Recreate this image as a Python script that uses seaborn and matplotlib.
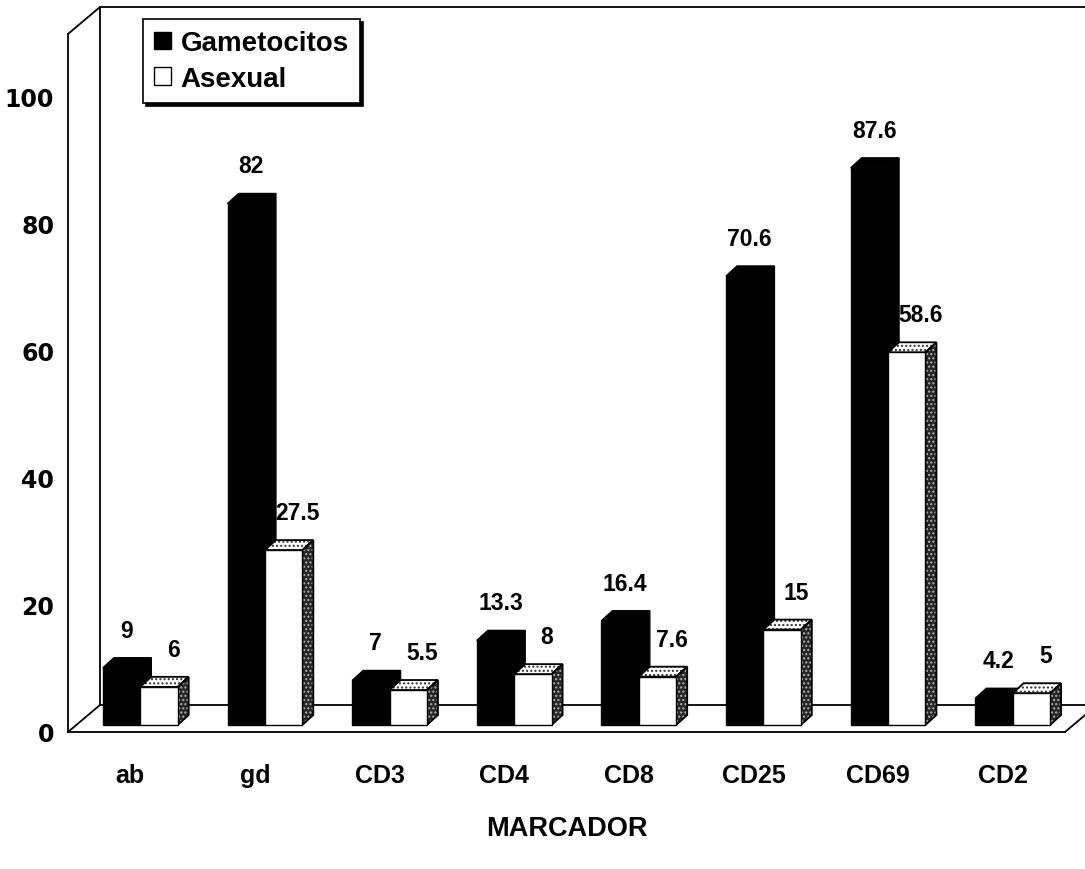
import numpy as np
import pandas as pd
import matplotlib
matplotlib.use("Agg")
import matplotlib.pyplot as plt
import matplotlib.transforms as mtransforms
from matplotlib.patches import Polygon, Patch
from matplotlib.lines import Line2D
import seaborn as sns

# ---------------- data ----------------
categories = ["ab", "gd", "CD3", "CD4", "CD8", "CD25", "CD69", "CD2"]
gametocitos = [9, 82, 7, 13.3, 16.4, 70.6, 87.6, 4.2]
asexual = [6, 27.5, 5.5, 8, 7.6, 15, 58.6, 5]
series_names = ["Gametocitos", "Asexual"]
y_ticks = [0, 20, 40, 60, 80, 100]
x_title = "MARCADOR"

df = pd.DataFrame({
    "Marcador": categories + categories,
    "Valor": gametocitos + asexual,
    "Serie": [series_names[0]] * len(categories) + [series_names[1]] * len(categories),
})

# ---------------- style ----------------
sns.set_style("white")
plt.rcParams["font.family"] = ["Liberation Sans", "DejaVu Sans"]
plt.rcParams["hatch.linewidth"] = 1.0
for k in ("text.color", "axes.labelcolor", "xtick.color", "ytick.color",
          "xtick.labelcolor", "ytick.labelcolor"):
    plt.rcParams[k] = "black"

W, H = 1085, 870
fig = plt.figure(figsize=(W / 100, H / 100), dpi=100)
ax = fig.add_axes([68 / W, (H - 733) / H, (1065 - 68) / W, (733 - 35) / H])

sns.barplot(data=df, x="Marcador", y="Valor", hue="Serie",
            palette=["black", "white"], saturation=1, width=0.6,
            edgecolor="black", linewidth=1.0, dodge=True, legend=False, ax=ax)

ax.set_xlim(-0.5, len(categories) - 0.5)
ax.set_ylim(0, 109.75)

# 3D geometry (pixels)
BAR_SHIFT = (10, 7)      # bars stand a little behind the front axis
FACE = (11, 10)          # depth of each bar
WALL = (32, 27)          # depth of the floor / back wall
ident = mtransforms.IdentityTransform()
bar_tr = ax.transData + mtransforms.Affine2D().translate(*BAR_SHIFT)

def px(x, y):
    p = bar_tr.transform((x, y))
    return p[0], p[1]

for ci, cont in enumerate(ax.containers):
    for bar in cont:
        bar.set_transform(bar_tr)
        bar.set_zorder(2 + ci * 0.1)
        x0 = bar.get_x(); x1 = x0 + bar.get_width(); h = bar.get_height()
        (ax0, ay0), (ax1, ay1) = px(x0, 0), px(x1, h)
        fx, fy = FACE
        top = [(ax0, ay1), (ax0 + fx, ay1 + fy), (ax1 + fx, ay1 + fy), (ax1, ay1)]
        side = [(ax1, ay0), (ax1, ay1), (ax1 + fx, ay1 + fy), (ax1 + fx, ay0 + fy)]
        z = 1.9 + ci * 0.1
        if ci == 0:
            for poly in (top, side):
                ax.add_patch(Polygon(poly, closed=True, facecolor="black", edgecolor="black",
                                     lw=1, transform=ident, zorder=z, clip_on=False))
        else:
            ax.add_patch(Polygon(side, closed=True, facecolor="#262626", edgecolor="#b0b0b0",
                                 hatch="....", lw=0, transform=ident, zorder=z, clip_on=False))
            ax.add_patch(Polygon(top, closed=True, facecolor="white", edgecolor="#333333",
                                 hatch="....", lw=0, transform=ident, zorder=z, clip_on=False))
            for poly in (top, side):
                ax.add_patch(Polygon(poly, closed=True, fill=False, edgecolor="black",
                                     lw=1.3, transform=ident, zorder=z + 0.01, clip_on=False))
        # value label
        lx = (ax0 + ax1) / 2 + (5 if ci == 0 else 14)
        ax.text(lx, ay1 + fy + 21, f"{h:g}", transform=ident, ha="center", va="baseline",
                fontsize=16.5, fontweight="bold", color="black", zorder=5, clip_on=False)

# floor and back wall
flt = ax.transAxes.transform((0, 1))
flb = ax.transAxes.transform((0, 0))
frb = ax.transAxes.transform((1, 0))
dx, dy = WALL
wall_lines = [
    ([flt[0], flt[0] + dx], [flt[1], flt[1] + dy]),
    ([flt[0] + dx, W + 5], [flt[1] + dy, flt[1] + dy]),
    ([flt[0] + dx, flb[0] + dx], [flt[1] + dy, flb[1] + dy]),
    ([flb[0] + dx, W + 5], [flb[1] + dy, flb[1] + dy]),
    ([flb[0], flb[0] + dx], [flb[1], flb[1] + dy]),
    ([frb[0], frb[0] + dx], [frb[1], frb[1] + dy]),
]
for xs, ys in wall_lines:
    ax.add_line(Line2D(xs, ys, color="black", lw=1.3, transform=ident, zorder=0.5, clip_on=False))

# spines / ticks
for s in ("top", "right"):
    ax.spines[s].set_visible(False)
for s in ("left", "bottom"):
    ax.spines[s].set_color("black")
    ax.spines[s].set_linewidth(1.3)

ax.set_yticks(y_ticks)
ax.set_yticklabels([str(v) for v in y_ticks])
ax.tick_params(axis="y", direction="out", length=8, width=1.2, color="black", pad=2,
               labelsize=17, labelcolor="black")
for t in ax.get_yticklabels():
    t.set_fontfamily("DejaVu Sans")
    t.set_fontweight("bold")

ax.set_xticks(range(len(categories)))
ax.set_xticklabels(categories)
ax.set_xticks(np.arange(-0.5, len(categories)), minor=True)
ax.tick_params(axis="x", which="major", length=0, pad=22, labelsize=18, labelcolor="black")
ax.tick_params(axis="x", which="minor", direction="out", length=9, width=1.2, color="black")
for t in ax.get_xticklabels():
    t.set_fontweight("bold")

ax.set_ylabel("")
ax.set_xlabel(x_title, fontsize=19.5, fontweight="bold", color="black")
ax.xaxis.label.set_va("center")
ax.xaxis.set_label_coords(0.5, (733 - 829) / 698)

# legend
handles = [Patch(facecolor="black", edgecolor="black", label=series_names[0]),
           Patch(facecolor="white", edgecolor="black", label=series_names[1])]
leg = ax.legend(handles=handles, loc="upper left",
                bbox_to_anchor=(143 / W, 1 - 20 / H), bbox_transform=fig.transFigure,
                borderaxespad=0, frameon=True, fancybox=False, edgecolor="black",
                framealpha=1, shadow={"color": "black", "alpha": 1},
                prop={"weight": "bold", "size": 20}, handlelength=0.6, handleheight=0.6,
                handletextpad=0.35, labelspacing=0.35, borderpad=0.4, labelcolor="black")
leg.get_frame().set_linewidth(1.2)
leg.set_zorder(6)

fig.savefig("out.png", dpi=100)
